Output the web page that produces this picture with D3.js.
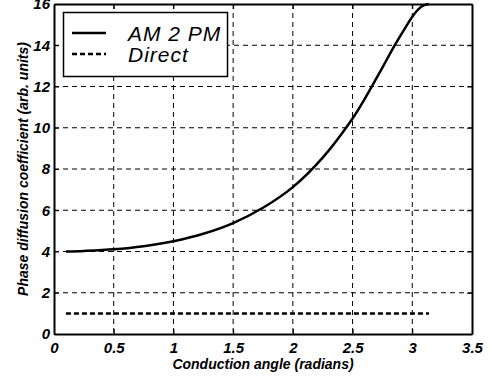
<!DOCTYPE html>
<html><head><meta charset="utf-8">
<script src="https://cdn.jsdelivr.net/npm/d3@7"></script>
<style>
html,body{margin:0;padding:0;background:#fff;}
svg{display:block;}
</style></head>
<body>
<script>
const xTicks = [0, 0.5, 1, 1.5, 2, 2.5, 3, 3.5];
const yTicks = [0, 2, 4, 6, 8, 10, 12, 14, 16];
const am2pmX = [0.1, 0.25, 0.5, 0.75, 1.0, 1.25, 1.5, 1.75, 2.0, 2.25, 2.5, 2.6, 2.75, 2.85, 2.95, 3.0, 3.05, 3.1, 3.14];
const am2pmY = [4.0, 4.03, 4.11, 4.26, 4.5, 4.86, 5.38, 6.12, 7.12, 8.55, 10.45, 11.38, 12.92, 13.97, 14.93, 15.38, 15.74, 15.94, 16.0];
const directX = [0.1, 3.14];
const directY = [1, 1];
const seriesNames = ["AM 2 PM", "Direct"];
const xLabel = "Conduction angle (radians)";
const yLabel = "Phase diffusion coefficient (arb. units)";

const W = 494, H = 381;
const L = 54, R = 472, T = 4, B = 334;
const FAM = "'Liberation Sans', Arial, Helvetica, sans-serif";
const svg = d3.select("body").append("svg").attr("width", W).attr("height", H);
const x = d3.scaleLinear().domain([0, 3.5]).range([L, R]);
const y = d3.scaleLinear().domain([0, 16]).range([B, T]);

function boldItalic(sel, size) {
  sel.attr("font-family", FAM).attr("font-style", "italic").attr("font-weight", "bold")
     .attr("font-size", size).attr("fill", "#000");
}

// grid
const g = svg.append("g");
g.selectAll("line.gx").data(xTicks.slice(1, -1)).join("line").attr("class", "gx")
  .attr("x1", d => x(d)).attr("x2", d => x(d)).attr("y1", T).attr("y2", B)
  .attr("stroke", "#000").attr("stroke-width", 1).attr("stroke-dasharray", "5,4");
g.selectAll("line.gy").data(yTicks.slice(1, -1)).join("line").attr("class", "gy")
  .attr("x1", L).attr("x2", R).attr("y1", d => y(d)).attr("y2", d => y(d))
  .attr("stroke", "#000").attr("stroke-width", 1).attr("stroke-dasharray", "5,4");

// axes
const xAxis = svg.append("g").attr("transform", `translate(0,${B})`)
  .call(d3.axisBottom(x).tickValues(xTicks).tickSizeInner(-5).tickSizeOuter(0).tickPadding(8).tickFormat(d3.format("")));
const yAxis = svg.append("g").attr("transform", `translate(${L},0)`)
  .call(d3.axisLeft(y).tickValues(yTicks).tickSizeInner(-5).tickSizeOuter(0).tickPadding(4).tickFormat(d3.format("")));
svg.append("g").attr("transform", `translate(0,${T})`)
  .call(d3.axisTop(x).tickValues(xTicks).tickSizeInner(-5).tickSizeOuter(0).tickFormat(""));
svg.append("g").attr("transform", `translate(${R},0)`)
  .call(d3.axisRight(y).tickValues(yTicks).tickSizeInner(-5).tickSizeOuter(0).tickFormat(""));
svg.selectAll(".domain").attr("stroke", "#000").attr("stroke-width", 2);
svg.selectAll(".tick line").attr("stroke", "#000").attr("stroke-width", 1);
svg.selectAll(".tick text").call(boldItalic, 15);

// lines
const line = d3.line().x(d => x(d[0])).y(d => y(d[1])).curve(d3.curveCatmullRom.alpha(0.5));
svg.append("path").datum(am2pmX.map((v, i) => [v, am2pmY[i]]))
  .attr("d", line).attr("fill", "none").attr("stroke", "#000").attr("stroke-width", 2.5);
svg.append("path").datum(directX.map((v, i) => [v, directY[i]]))
  .attr("d", d3.line().x(d => x(d[0])).y(d => y(d[1]))).attr("fill", "none")
  .attr("stroke", "#000").attr("stroke-width", 2.5).attr("stroke-dasharray", "5,3");

// axis labels
svg.append("text").attr("x", (L + R) / 2).attr("y", 369).attr("text-anchor", "middle")
  .call(boldItalic, 14).text(xLabel);
svg.append("text").attr("transform", `translate(28,${(T + B) / 2}) rotate(-90)`).attr("text-anchor", "middle")
  .call(boldItalic, 14).text(yLabel);

// legend
const lg = svg.append("g");
lg.append("rect").attr("x", 63.5).attr("y", 12.5).attr("width", 164).attr("height", 64)
  .attr("fill", "#fff").attr("stroke", "#000").attr("stroke-width", 1.5);
const styles = [null, "5,3"];
seriesNames.forEach((n, i) => {
  const yy = 33 + i * 21;
  lg.append("line").attr("x1", 72).attr("x2", 106).attr("y1", yy).attr("y2", yy)
    .attr("stroke", "#000").attr("stroke-width", 2.5).attr("stroke-dasharray", styles[i]);
  lg.append("text").attr("x", 128).attr("y", yy + 8)
    .attr("font-family", FAM).attr("font-style", "italic").attr("font-size", 21)
    .attr("letter-spacing", 1).text(n);
});
</script>
</body></html>
